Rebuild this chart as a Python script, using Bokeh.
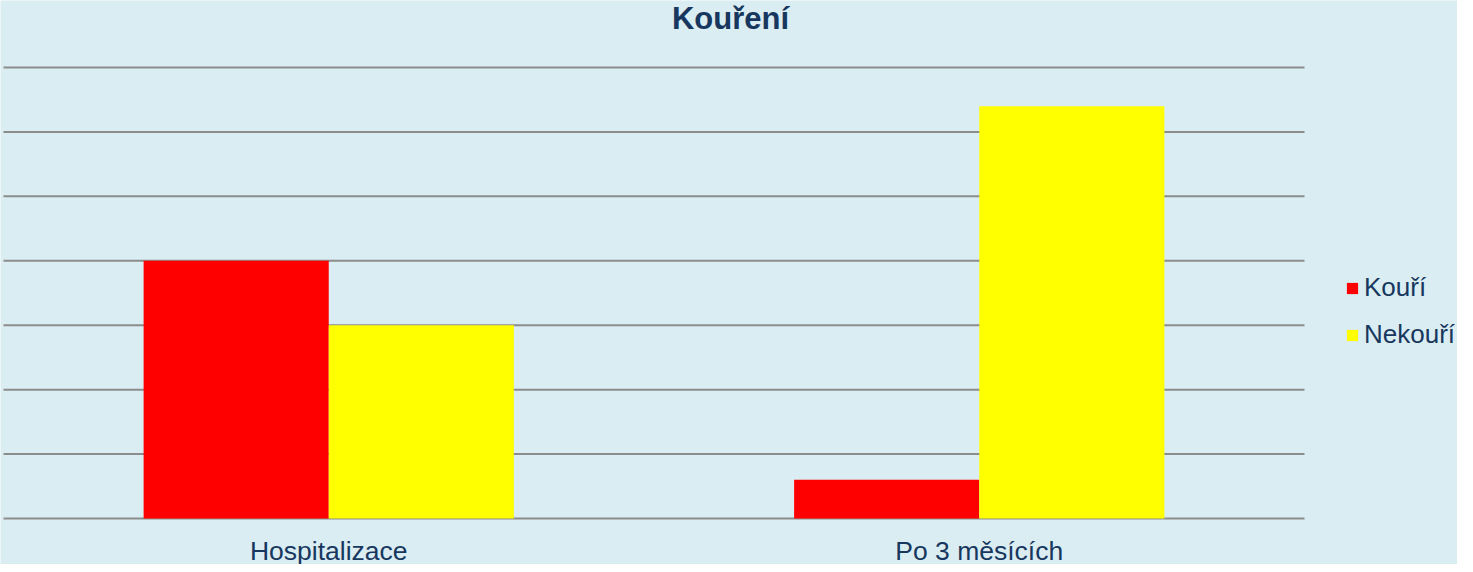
import numpy as np
from bokeh.plotting import figure
from bokeh.models import Range1d, Legend, LegendItem, ColumnDataSource, LabelSet, Label
from bokeh.core.properties import value
from bokeh.embed import file_html
from bokeh.resources import INLINE

categories = ["Hospitalizace", "Po 3 měsících"]
kouri = [20, 3]
nekouri = [15, 32]
series_names = ["Kouří", "Nekouří"]
title_text = "Kouření"
y_ticks = [0, 5, 10, 15, 20, 25, 30, 35]

BG = "#DAEDF3"
TXT = "#17375E"
GRID = "#8C8C8C"
FONT = "Liberation Sans"

# canvas geometry (pixels): plot area spans x 3..1304 and y 67 (top) .. 518 (baseline)
W, H = 1457, 564
PX_L, PX_R, PX_T, PX_B = 3, 1304, 67, 518
n = len(categories)
ymax = y_ticks[-1]
xs = (PX_R - PX_L) / n
ys = (PX_B - PX_T) / ymax
x_range = Range1d(-PX_L / xs, n + (W - PX_R) / xs)
y_range = Range1d(-(H - PX_B) / ys, ymax + PX_T / ys)

p = figure(x_range=x_range, y_range=y_range, width=W, height=H,
           output_backend="svg", toolbar_location=None, min_border=0)
p.background_fill_color = BG
p.border_fill_color = BG
p.outline_line_color = None
p.xaxis.visible = False
p.yaxis.visible = False
p.grid.visible = False

# horizontal gridlines across the plot area
p.segment(x0=[0] * len(y_ticks), x1=[n] * len(y_ticks), y0=y_ticks, y1=y_ticks,
          line_color=GRID, line_width=2)

centers = np.arange(n) + 0.5
bw = 0.2846
src = ColumnDataSource(dict(cat=categories, cx=centers, xk=centers - bw / 2, xn=centers + bw / 2,
                            kouri=kouri, nekouri=nekouri, zero=[0] * n))
r1 = p.vbar(x="xk", top="kouri", width=bw, source=src, fill_color="#FF0000", line_color=None)
r2 = p.vbar(x="xn", top="nekouri", width=bw, source=src, fill_color="#FFFF00", line_color=None)

labels = LabelSet(x="cx", y="zero", text="cat", source=src, y_offset=-41,
                  text_align="center", text_baseline="alphabetic",
                  text_font=value(FONT), text_font_size="26.5px", text_color=TXT)
p.add_layout(labels)

title = Label(x=730, y=H - 28 + 10, x_units="screen", y_units="screen", text=title_text,
              text_align="center", text_baseline="alphabetic", text_font=FONT,
              text_font_size="31px", text_font_style="bold", text_color=TXT)
p.add_layout(title)

legend = Legend(items=[LegendItem(label=series_names[0], renderers=[r1]),
                       LegendItem(label=series_names[1], renderers=[r2])],
                location=(1345, 214), padding=0, margin=0, spacing=16,
                glyph_width=14, glyph_height=14, label_height=30, label_standoff=5,
                label_text_font=FONT, label_text_font_size="26px", label_text_color=TXT,
                border_line_color=None, background_fill_alpha=0)
p.add_layout(legend)

open("out.html", "w").write(file_html(p, INLINE))
